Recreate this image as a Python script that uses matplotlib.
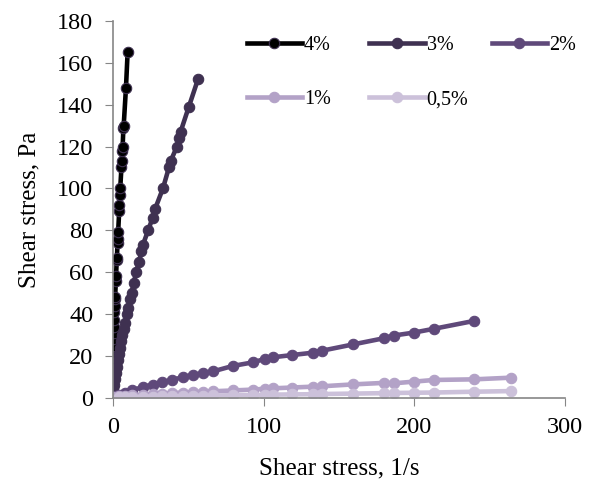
import matplotlib
matplotlib.use('Agg')
import matplotlib.pyplot as plt

plt.rcParams['font.family'] = ['Liberation Serif', 'DejaVu Serif']

# shear rate / shear stress values
x4 = [0, 0.05, 0.1, 0.2, 0.3, 0.4, 0.5, 0.6, 0.7, 0.9, 1.1, 1.3, 1.5, 1.6, 2.1, 2.2, 2.7, 2.8,
      3.2, 3.4, 3.6, 4.3, 4.5, 4.8, 5.0, 5.8, 6.0, 6.4, 6.6, 7.1, 7.3, 8.8, 9.9]
y4 = [0, 5, 10, 15, 20, 25, 28, 31, 34, 37, 41, 44, 47, 48, 56, 58, 66, 67,
      74, 76, 79, 89, 92, 97, 100, 110, 113, 118, 120, 129, 130, 148, 165]

x3 = [0, 0.3, 0.8, 1.4, 2.0, 2.6, 3.3, 4.0, 4.8, 5.6, 6.5, 7.4, 8.3, 9.4, 10.3, 11.5, 12.6,
      14.0, 15.5, 17.5, 19.0, 20.0, 23.5, 26.5, 28.0, 33.3, 37.3, 38.4, 42.6, 44.0, 45.0, 50.5, 56.5]
y3 = [0, 3, 6, 9, 12, 15, 18, 21, 24, 27, 30, 33, 36, 40, 43, 47, 50,
      55, 60, 65, 70, 73, 80, 86, 90, 100, 110, 113, 120, 124, 127, 139, 152]

x2 = [0, 2, 4, 8, 13, 20, 26.5, 33, 39, 46.4, 53, 59.8, 66.5, 79.7, 92.9, 100.7, 106,
      119, 132.5, 139, 159.6, 179.7, 186.3, 199.6, 212.8, 239.7]
y2 = [0, 1.0, 1.6, 2.6, 3.8, 5.2, 6.4, 7.5, 8.6, 9.9, 11.0, 11.8, 12.7, 15.3, 17.0, 18.6, 19.4,
      20.5, 21.6, 22.6, 25.6, 28.5, 29.8, 31.2, 33.0, 36.8]

x1 = [0, 2, 4, 8, 13, 20, 26.5, 33, 39, 46.4, 53, 59.8, 66.5, 79.7, 92.9, 100.7, 106,
      119, 132.5, 139, 159.6, 179.7, 186.3, 199.6, 212.8, 239.7, 264]
y1 = [0.3, 0.6, 0.8, 1.0, 1.3, 1.6, 1.9, 2.1, 2.3, 2.6, 2.8, 3.0, 3.2, 3.6, 4.0, 4.4, 4.6,
      5.0, 5.4, 5.6, 6.5, 7.2, 7.0, 7.8, 8.6, 8.9, 9.7]

x05 = [4, 8, 13, 20, 26.5, 33, 39, 46.4, 53, 59.8, 66.5, 79.7, 92.9, 100.7, 106,
       119, 132.5, 139, 159.6, 179.7, 186.3, 199.6, 212.8, 239.7, 264]
y05 = [0.3, 0.4, 0.5, 0.6, 0.7, 0.8, 0.85, 0.9, 1.0, 1.1, 1.2, 1.3, 1.4, 1.5, 1.6,
       1.7, 1.8, 1.9, 2.1, 2.3, 2.4, 2.5, 2.6, 3.0, 3.3]

series = [(x4, y4, '4%', '#000000'),
          (x3, y3, '3%', '#3F3151'),
          (x2, y2, '2%', '#5F497A'),
          (x1, y1, '1%', '#B3A2C7'),
          (x05, y05, '0,5%', '#CCC1DA')]

fig = plt.figure(figsize=(5.9, 4.83), dpi=100)
ax = fig.add_axes([0.191, 0.176, 0.767, 0.781])

lines = []
for x, y, name, c in series:
    ec = '#3F3151' if c == '#000000' else c
    l, = ax.plot(x, y, color=c, linewidth=3.3, marker='o', markersize=7.5,
                 markerfacecolor=c, markeredgecolor=ec, markeredgewidth=0.8, label=name)
    lines.append(l)

ax.set_xlim(0, 300)
ax.set_ylim(0, 180)
ax.set_xticks([0, 100, 200, 300])
ax.set_yticks(range(0, 181, 20))
for s in ['top', 'right']:
    ax.spines[s].set_visible(False)
for s in ['left', 'bottom']:
    ax.spines[s].set_color('#868686')
    ax.spines[s].set_linewidth(1.2)
ax.tick_params(direction='out', length=6, color='#868686', labelsize=17.5, pad=8)

ax.set_xlabel('Shear stress, 1/s', fontsize=18, labelpad=14)
ax.set_ylabel('Shear stress, Pa', fontsize=18, labelpad=12)

# two legend rows, as in the original
leg_kw = dict(loc='upper left', bbox_transform=fig.transFigure, frameon=False,
              fontsize=14.5, handlelength=2.75, handletextpad=0.1,
              columnspacing=1.9, borderpad=0)
leg1 = ax.legend(lines[:3], [s[2] for s in series[:3]], ncol=3,
                 bbox_to_anchor=(0.401, 0.946), **leg_kw)
ax.add_artist(leg1)
ax.legend(lines[3:], [s[2] for s in series[3:]], ncol=2,
          bbox_to_anchor=(0.401, 0.834), **leg_kw)

fig.savefig('out.png', dpi=100)
